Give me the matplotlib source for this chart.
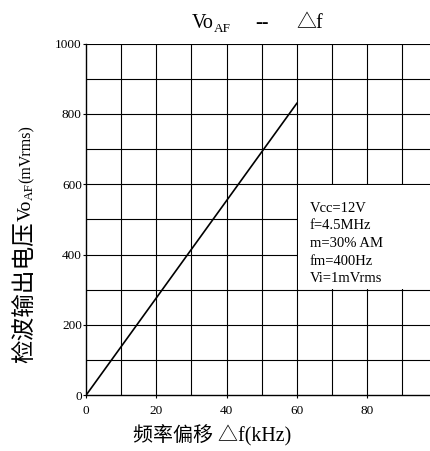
import matplotlib
matplotlib.use("Agg")
import matplotlib.pyplot as plt
from matplotlib.patches import Rectangle

plt.rcParams['font.family'] = ['Liberation Serif', 'Noto Sans CJK SC', 'DejaVu Sans']

# detector output vs frequency deviation
df_khz = [0, 60]
vo_mv = [0, 830]

x_ticks = [0, 20, 40, 60, 80]
y_ticks = [0, 200, 400, 600, 800, 1000]
x_grid = [10, 20, 30, 40, 50, 60, 70, 80, 90]
y_grid = [100, 200, 300, 400, 500, 600, 700, 800, 900, 1000]
cond_lines = ["Vcc=12V", "f=4.5MHz", "m=30% AM", "fm=400Hz", "Vi=1mVrms"]

W, H = 431, 451
fig = plt.figure(figsize=(W / 100, H / 100), dpi=100)
ax = fig.add_axes([86 / W, 1 - 395.3 / H, 351.4 / W, 351.8 / H])

ax.set_xlim(0, 100)
ax.set_ylim(0, 1000)
for gx in x_grid:
    ax.axvline(gx, color='black', linewidth=0.8, zorder=1)
for gy in y_grid:
    ax.axhline(gy, color='black', linewidth=0.8, zorder=1)
ax.set_xticks(x_ticks)
ax.set_yticks(y_ticks)
ax.tick_params(length=2, width=0.8, labelsize=9.5)
ax.tick_params(axis='x', pad=5)
ax.tick_params(axis='y', pad=1)
for s in ['top', 'right']:
    ax.spines[s].set_visible(False)
for s in ['left', 'bottom']:
    ax.spines[s].set_linewidth(1.0)

ax.plot(df_khz, vo_mv, color='black', linewidth=1.2, zorder=3)

# blank panel for the test conditions
ax.add_patch(Rectangle((60.3, 303), 40, 294, facecolor='white', edgecolor='none', zorder=2))
for i, line in enumerate(cond_lines):
    ax.text(63.7, 522 - i * 50.3, line, fontsize=10.5, va='baseline', ha='left', zorder=4)

renderer = fig.canvas.get_renderer()


def run_up(pieces, x, y):
    # rotated text pieces stacked upward, pixels from the top-left
    for txt, size, shift in pieces:
        t = fig.text((x + shift) / W, 1 - y / H, txt, fontsize=size, rotation=90,
                     rotation_mode='anchor', ha='left', va='baseline', fontweight='light')
        y -= t.get_window_extent(renderer).height


fig.text(192 / W, 1 - 28.5 / H, "Vo", fontsize=14.4, ha='left', va='baseline')
fig.text(214 / W, 1 - 32 / H, "AF", fontsize=9.5, ha='left', va='baseline')
fig.text(255 / W, 1 - 28.5 / H, "--", fontsize=14.4, ha='left', va='baseline')
fig.text(296 / W, 1 - 28.5 / H, "△f", fontsize=14.4, ha='left', va='baseline')

fig.text(133 / W, 1 - 441 / H, "频率偏移 △f(kHz)", fontsize=14.4, ha='left', va='baseline',
         fontweight='light')

run_up([("检波输出电压", 17, 0), ("Vo", 14, 0), ("AF", 9.5, 1.5), ("(mVrms)", 11.5, 0)],
       31, 363)

fig.savefig("out.png", dpi=100)
